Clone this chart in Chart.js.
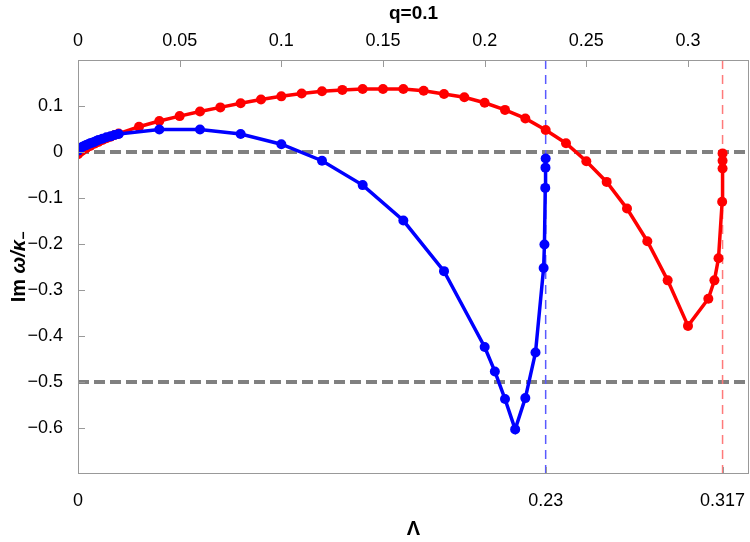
<!DOCTYPE html>
<html>
<head>
<meta charset="utf-8">
<script src="https://cdn.jsdelivr.net/npm/chart.js@4.4.0/dist/chart.umd.min.js"></script>
<style>
    html, body { margin: 0; padding: 0; background: #fff; }
</style>
</head>
<body>
<canvas id="chart" width="750" height="542"></canvas>
<script>
// Données (Λ, Im ω/κ₋)
const blueLambda = [0, 0.001, 0.002, 0.003, 0.004, 0.005, 0.006, 0.007, 0.008, 0.009, 0.010,
    0.012, 0.014, 0.016, 0.018, 0.020, 0.04, 0.06, 0.08, 0.10, 0.12, 0.14, 0.16, 0.18,
    0.20, 0.205, 0.21, 0.215, 0.22, 0.225, 0.2290, 0.2294, 0.2298, 0.2299, 0.2300];
const blueIm = [0.003, 0.008, 0.011, 0.013, 0.015, 0.017, 0.019, 0.020, 0.022, 0.024, 0.026,
    0.029, 0.032, 0.034, 0.037, 0.039, 0.049, 0.049, 0.039, 0.017, -0.019, -0.072, -0.149, -0.259,
    -0.424, -0.477, -0.537, -0.603, -0.535, -0.436, -0.252, -0.201, -0.078, -0.034, -0.014];

const redLambda = [0, 0.001, 0.002, 0.004, 0.006, 0.008, 0.010, 0.012, 0.014, 0.016, 0.018, 0.020,
    0.03, 0.04, 0.05, 0.06, 0.07, 0.08, 0.09, 0.10, 0.11, 0.12, 0.13, 0.14, 0.15, 0.16, 0.17,
    0.18, 0.19, 0.20, 0.21, 0.22, 0.23, 0.24, 0.25, 0.26, 0.27, 0.28, 0.29, 0.30,
    0.310, 0.313, 0.315, 0.3168, 0.3170, 0.3170, 0.3170];
const redIm = [-0.005, 0.000, 0.003, 0.008, 0.013, 0.018, 0.022, 0.026, 0.030, 0.033, 0.037, 0.040,
    0.055, 0.0675, 0.078, 0.088, 0.097, 0.106, 0.114, 0.121, 0.127, 0.132, 0.135, 0.137, 0.137, 0.137, 0.133,
    0.126, 0.119, 0.107, 0.0915, 0.073, 0.048, 0.019, -0.020, -0.065, -0.123, -0.194, -0.279, -0.378,
    -0.319, -0.279, -0.231, -0.108, -0.036, -0.019, -0.003];

// Graduations
const bottomTicks = [0, 0.23, 0.317];
const topTicks = [0, 0.05, 0.1, 0.15, 0.2, 0.25, 0.3];
const yTicks = [0.1, 0, -0.1, -0.2, -0.3, -0.4, -0.5, -0.6];

// Lignes de référence en pointillés
const hLines = [0, -0.5];
const vLines = [0.23, 0.317];
const vLineColors = ['#5a5aff', '#ff7a7a'];

const FONT = "'Liberation Sans', Arial, sans-serif";

function toPoints(xs, ys) {
    return xs.map((x, i) => ({ x: x, y: ys[i] }));
}

function fmt(v) {
    return v < 0 ? '\u2212' + Math.abs(v) : String(v);
}

// Pas de marge supplémentaire pour les étiquettes qui débordent
function noPad(s) {
    s.paddingLeft = 0;
    s.paddingRight = 0;
    s.paddingTop = 0;
    s.paddingBottom = 0;
}

// Cadre, graduations intérieures, lignes pointillées et titre de l'axe y
const framePlugin = {
    id: 'frame',
    beforeDatasetsDraw(chart) {
        const { ctx, chartArea: a, scales } = chart;
        ctx.save();
        ctx.lineWidth = 4;
        ctx.strokeStyle = '#808080';
        ctx.setLineDash([11, 5]);
        hLines.forEach(v => {
            const y = scales.y.getPixelForValue(v);
            ctx.beginPath();
            ctx.moveTo(a.left, y);
            ctx.lineTo(a.right, y);
            ctx.stroke();
        });
        ctx.lineWidth = 1.5;
        ctx.setLineDash([9, 6]);
        vLines.forEach((v, i) => {
            const x = scales.x.getPixelForValue(v);
            ctx.strokeStyle = vLineColors[i];
            ctx.beginPath();
            ctx.moveTo(x, a.top);
            ctx.lineTo(x, a.bottom);
            ctx.stroke();
        });
        ctx.restore();
    },
    afterDraw(chart) {
        const { ctx, chartArea: a, scales } = chart;
        ctx.save();
        ctx.strokeStyle = '#999';
        ctx.lineWidth = 1;
        ctx.strokeRect(a.left + 0.5, a.top + 0.5, a.right - a.left - 1, a.bottom - a.top - 1);

        ctx.beginPath();
        yTicks.forEach(v => {
            const y = Math.round(scales.y.getPixelForValue(v)) + 0.5;
            ctx.moveTo(a.left, y);
            ctx.lineTo(a.left + 7, y);
        });
        topTicks.forEach(v => {
            const x = Math.round(scales.x2.getPixelForValue(v)) + 0.5;
            ctx.moveTo(x, a.top);
            ctx.lineTo(x, a.top + 7);
        });
        bottomTicks.forEach(v => {
            const x = Math.round(scales.x.getPixelForValue(v)) + 0.5;
            ctx.moveTo(x, a.bottom);
            ctx.lineTo(x, a.bottom - 7);
        });
        ctx.stroke();

        // Titre de l'axe y : "Im ω/κ₋"
        const parts = [
            { t: 'Im ', f: 'bold 20px ' + FONT, dy: 0 },
            { t: '\u03C9/\u03BA', f: 'italic bold 20px ' + FONT, dy: 0 },
            { t: '\u2212', f: 'bold 14px ' + FONT, dy: 5 }
        ];
        let total = 0;
        parts.forEach(p => { ctx.font = p.f; p.w = ctx.measureText(p.t).width; total += p.w; });
        ctx.translate(19, (a.top + a.bottom) / 2);
        ctx.rotate(-Math.PI / 2);
        ctx.fillStyle = '#000';
        ctx.textBaseline = 'middle';
        ctx.textAlign = 'left';
        let cx = -total / 2;
        parts.forEach(p => {
            ctx.font = p.f;
            ctx.fillText(p.t, cx, p.dy);
            cx += p.w;
        });
        ctx.restore();
    }
};

new Chart(document.getElementById('chart'), {
    type: 'scatter',
    data: {
        datasets: [
            {
                label: 'blue',
                data: toPoints(blueLambda, blueIm),
                showLine: true,
                borderColor: '#0000ff',
                backgroundColor: '#0000ff',
                borderWidth: 3.5,
                pointRadius: 5,
                pointBorderWidth: 0,
                xAxisID: 'x',
                yAxisID: 'y'
            },
            {
                label: 'red',
                data: toPoints(redLambda, redIm),
                showLine: true,
                borderColor: '#ff0000',
                backgroundColor: '#ff0000',
                borderWidth: 3.5,
                pointRadius: 5,
                pointBorderWidth: 0,
                xAxisID: 'x',
                yAxisID: 'y'
            }
        ]
    },
    options: {
        responsive: false,
        animation: false,
        layout: {
            autoPadding: false,
            padding: { left: 0, right: 1, top: 0, bottom: 0 }
        },
        plugins: {
            legend: { display: false },
            tooltip: { enabled: false }
        },
        scales: {
            x: {
                type: 'linear',
                position: 'bottom',
                min: 0,
                max: 0.33,
                grid: { display: false },
                border: { display: false },
                afterBuildTicks: s => { s.ticks = bottomTicks.map(v => ({ value: v })); },
                afterFit: s => { s.height = 68; noPad(s); },
                ticks: {
                    autoSkip: false,
                    maxRotation: 0,
                    padding: 8,
                    color: '#000',
                    font: { family: FONT, size: 18 },
                    callback: v => fmt(v)
                },
                title: {
                    display: true,
                    text: '\u039B',
                    color: '#000',
                    font: { family: FONT, size: 20, weight: 'bold' },
                    padding: { top: 0, bottom: 1 }
                }
            },
            x2: {
                type: 'linear',
                position: 'top',
                min: 0,
                max: 0.33,
                grid: { display: false },
                border: { display: false },
                afterBuildTicks: s => { s.ticks = topTicks.map(v => ({ value: v })); },
                afterFit: s => { s.height = 60; noPad(s); },
                ticks: {
                    autoSkip: false,
                    maxRotation: 0,
                    padding: 0,
                    color: '#000',
                    font: { family: FONT, size: 18 },
                    callback: v => fmt(v)
                },
                title: {
                    display: true,
                    text: 'q=0.1',
                    color: '#000',
                    font: { family: FONT, size: 19, weight: 'bold' },
                    padding: { top: 2, bottom: 0 }
                }
            },
            y: {
                type: 'linear',
                min: -0.7,
                max: 0.2,
                grid: { display: false },
                border: { display: false },
                afterBuildTicks: s => { s.ticks = yTicks.map(v => ({ value: v })); },
                afterFit: s => { s.width = 78; noPad(s); },
                ticks: {
                    autoSkip: false,
                    padding: 7,
                    color: '#000',
                    font: { family: FONT, size: 18 },
                    callback: v => fmt(v)
                }
            }
        }
    },
    plugins: [framePlugin]
});
</script>
</body>
</html>
